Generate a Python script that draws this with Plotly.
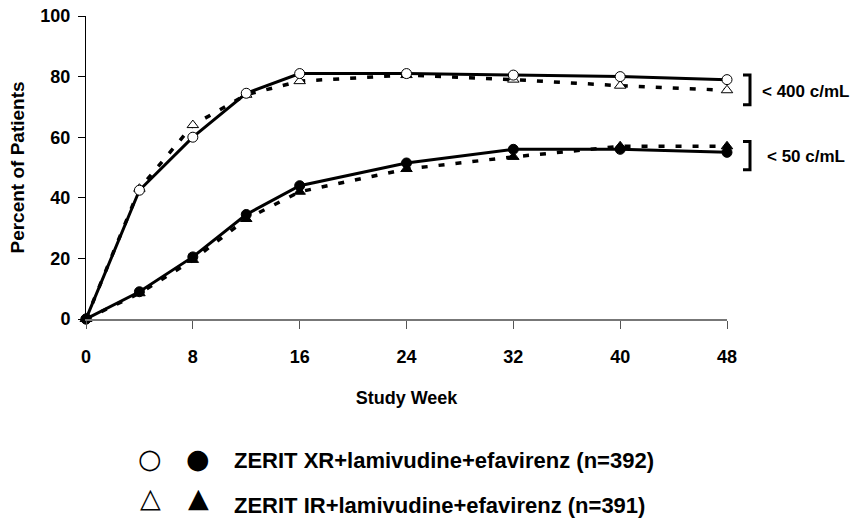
import plotly.graph_objects as go

# ---- data ----
weeks = [0, 4, 8, 12, 16, 24, 32, 40, 48]
xr_400 = [0, 42.5, 60, 74.5, 81, 81, 80.5, 80, 79]
ir_400 = [0, 43, 64, 74, 78.5, 80.5, 79, 77, 75.5]
xr_50 = [0, 9, 20.5, 34.5, 44, 51.5, 56, 56, 55]
ir_50 = [0, 8.5, 19.5, 33, 42, 49.5, 53.5, 57, 57]
x_ticks = [0, 8, 16, 24, 32, 40, 48]
y_ticks = [0, 20, 40, 60, 80, 100]
legend_labels = ["ZERIT XR+lamivudine+efavirenz (n=392)",
                 "ZERIT IR+lamivudine+efavirenz (n=391)"]
threshold_labels = ["< 400 c/mL", "< 50 c/mL"]

W, H = 859, 522
L, R, T, B = 86, 132, 16, 202.5
PW, PH = W - L - R, H - T - B


def px(x):
    return (x - L) / PW


def py(y):
    return (H - B - y) / PH


FONT = "Liberation Sans, Arial, sans-serif"
SYM_FONT = "DejaVu Sans, sans-serif"

fig = go.Figure()

dash_ir = "6px,11px"


def add_series(y, dash, symbol, fill, name):
    fig.add_trace(go.Scatter(
        x=weeks, y=y, mode="lines+markers", name=name,
        line=dict(color="black", width=3 if dash == "solid" else 3.5, dash=dash),
        marker=dict(symbol=symbol, size=10, color=fill,
                    line=dict(color="black", width=1)),
        cliponaxis=False, showlegend=False))


add_series(ir_400, dash_ir, "triangle-up", "white", "IR <400")
add_series(xr_400, "solid", "circle", "white", "XR <400")
add_series(ir_50, dash_ir, "triangle-up", "black", "IR <50")
add_series(xr_50, "solid", "circle", "black", "XR <50")

annotations = []
# threshold labels
annotations.append(dict(x=px(760), y=py(91.7), xref="paper", yref="paper",
                        text=threshold_labels[0], showarrow=False,
                        xanchor="left", yanchor="middle",
                        font=dict(family=FONT, size=17, color="black", weight="bold")))
annotations.append(dict(x=px(765), y=py(156.7), xref="paper", yref="paper",
                        text=threshold_labels[1], showarrow=False,
                        xanchor="left", yanchor="middle",
                        font=dict(family=FONT, size=17, color="black", weight="bold")))
# legend
for sym, xx, yy in [("○", 150, 459), ("●", 198, 459), ("△", 150, 498), ("▲", 198, 498)]:
    annotations.append(dict(x=px(xx), y=py(yy), xref="paper", yref="paper",
                            text=sym, showarrow=False, xanchor="center", yanchor="middle",
                            font=dict(family=SYM_FONT, size=27, color="black")))
for lbl, yy in zip(legend_labels, [461, 506]):
    annotations.append(dict(x=px(232), y=py(yy), xref="paper", yref="paper",
                            text=lbl, showarrow=False, xanchor="left", yanchor="middle",
                            font=dict(family=FONT, size=22, color="black", weight="bold")))

shapes = []
for ytop, ybot in [(75, 105), (141.7, 170)]:
    x0, x1 = px(743), px(750)
    y0, y1 = py(ytop), py(ybot)
    shapes.append(dict(type="path", xref="paper", yref="paper",
                       path=f"M {x0},{y0} L {x1},{y0} L {x1},{y1} L {x0},{y1}",
                       line=dict(color="black", width=3)))

fig.update_layout(
    width=W, height=H,
    margin=dict(l=L, r=R, t=T, b=B, autoexpand=False),
    paper_bgcolor="white", plot_bgcolor="white",
    font=dict(family=FONT, color="black"),
    annotations=annotations, shapes=shapes,
    xaxis=dict(range=[0, 48], tickvals=x_ticks, ticktext=[str(v) for v in x_ticks],
               showgrid=False, zeroline=False, showline=True, linecolor="#777777",
               linewidth=1.5, ticks="outside", ticklen=8, tickcolor="#555555", tickwidth=1,
               ticklabelstandoff=13,
               tickfont=dict(family=FONT, size=18, color="black", weight="bold"),
               title=dict(text="Study Week", standoff=25,
                          font=dict(family=FONT, size=18, color="black", weight="bold")),
               automargin=False),
    yaxis=dict(range=[0, 100], tickvals=y_ticks, ticktext=[str(v) for v in y_ticks],
               showgrid=False, zeroline=False, showline=True, linecolor="black",
               linewidth=1, ticks="outside", ticklen=7, tickcolor="black", tickwidth=1,
               ticklabelstandoff=4,
               tickfont=dict(family=FONT, size=18, color="black", weight="bold"),
               title=dict(text="Percent of Patients", standoff=10,
                          font=dict(family=FONT, size=19, color="black", weight="bold")),
               automargin=False),
)

fig.write_html("out.html", config={"displayModeBar": False},
               post_script="document.body.style.margin='0px';document.body.style.overflow='hidden';")
